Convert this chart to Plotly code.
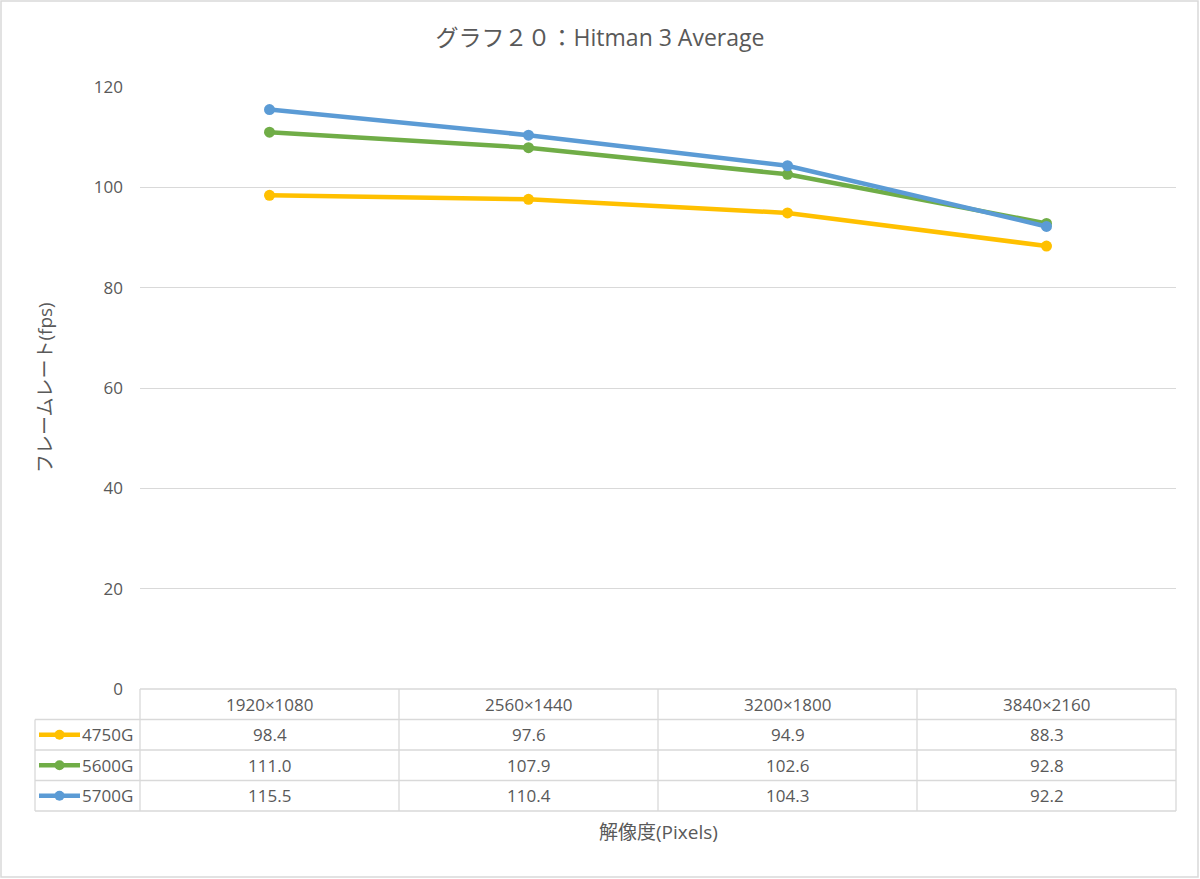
import plotly.graph_objects as go

# chart data
resolutions = ["1920×1080", "2560×1440", "3200×1800", "3840×2160"]
series_names = ["4750G", "5600G", "5700G"]
fps_4750g = [98.4, 97.6, 94.9, 88.3]
fps_5600g = [111.0, 107.9, 102.6, 92.8]
fps_5700g = [115.5, 110.4, 104.3, 92.2]
series_colors = ["#FFC000", "#70AD47", "#5B9BD5"]
y_ticks = [0, 20, 40, 60, 80, 100, 120]

W, H = 1200, 879
L, R, T, B = 140, 24, 87, 190
PW, PH = W - L - R, H - T - B
FONT = "Open Sans, Noto Sans CJK JP, sans-serif"
GRAY = "#595959"
GRID = "#D9D9D9"


def px_x(X):
    return (X - L) / PW


def px_y(Y):
    return (H - B - Y) / PH


def text_note(x, y, text, size=17, **kw):
    return dict(xref="paper", yref="paper", x=x, y=y, text=text, showarrow=False,
                xanchor=kw.pop("xanchor", "center"), yanchor="middle",
                font=dict(size=size, color=GRAY, family=FONT), **kw)


fig = go.Figure()
all_series = [fps_4750g, fps_5600g, fps_5700g]
for name, vals, color in zip(series_names, all_series, series_colors):
    fig.add_scatter(
        x=resolutions,
        y=vals,
        name=name,
        mode="lines+markers",
        line=dict(color=color, width=4.5),
        marker=dict(color=color, size=11),
        showlegend=False,
    )

shapes = []
annotations = []
ncat = len(resolutions)
row_h = 30.5
top = H - B  # table top in px

# column boundaries follow the category axis
col_edges = [L + PW * i / ncat for i in range(ncat + 1)]
legend_left = 35
bottom = top + (len(series_names) + 1) * row_h

# horizontal lines
for r in range(len(series_names) + 2):
    y = px_y(top + r * row_h)
    x0 = px_x(L) if r == 0 else px_x(legend_left)
    shapes.append(dict(type="line", xref="paper", yref="paper", x0=x0, x1=px_x(L + PW),
                       y0=y, y1=y, line=dict(color=GRID, width=1.3)))
# vertical lines
for X in col_edges:
    shapes.append(dict(type="line", xref="paper", yref="paper", x0=px_x(X), x1=px_x(X),
                       y0=px_y(top), y1=px_y(bottom), line=dict(color=GRID, width=1.3)))
shapes.append(dict(type="line", xref="paper", yref="paper", x0=px_x(legend_left), x1=px_x(legend_left),
                   y0=px_y(top + row_h), y1=px_y(bottom), line=dict(color=GRID, width=1.3)))

# header row
for i, res in enumerate(resolutions):
    annotations.append(text_note((i + 0.5) / ncat, px_y(top + row_h / 2), res))
# data rows
for r, (name, vals, color) in enumerate(zip(series_names, all_series, series_colors)):
    yc = px_y(top + (r + 1.5) * row_h)
    for i, v in enumerate(vals):
        annotations.append(text_note((i + 0.5) / ncat, yc, f"{v:.1f}"))
    # legend key
    shapes.append(dict(type="line", xref="paper", yref="paper", x0=px_x(39), x1=px_x(80), y0=yc, y1=yc,
                       line=dict(color=color, width=4.5)))
    shapes.append(dict(type="circle", xref="paper", yref="paper", x0=px_x(54.5), x1=px_x(64.5),
                       y0=yc - 5 / PH, y1=yc + 5 / PH, fillcolor=color, line=dict(width=0)))
    annotations.append(text_note(px_x(135), yc, name, xanchor="right"))

# outer border
shapes.append(dict(type="rect", xref="paper", yref="paper", x0=px_x(1), x1=px_x(W - 2),
                   y0=px_y(H - 2), y1=px_y(1), line=dict(color="#D9D9D9", width=1.5)))

# axis titles
annotations.append(text_note(px_x(45), px_y(388), "フレームレート(fps)", size=19, textangle=-90))
annotations.append(text_note(px_x(658), px_y(832), "解像度(Pixels)", size=19))

fig.update_layout(
    width=W,
    height=H,
    margin=dict(l=L, r=R, t=T, b=B),
    paper_bgcolor="white",
    plot_bgcolor="white",
    title=dict(text="グラフ２０：Hitman 3 Average", x=0.5, xanchor="center", y=1 - 38 / H,
               yanchor="middle", font=dict(size=23, color=GRAY, family=FONT)),
    font=dict(family=FONT, color=GRAY),
    shapes=shapes,
    annotations=annotations,
)
fig.update_xaxes(showticklabels=False, showgrid=False, zeroline=False, showline=False,
                 range=[-0.5, ncat - 0.5])
fig.update_yaxes(range=[0, 120], tickvals=y_ticks, showgrid=True, gridcolor=GRID, gridwidth=1.3,
                 zeroline=False, showline=False, ticklabelstandoff=16,
                 tickfont=dict(size=17, color=GRAY, family=FONT))

fig.write_html("out.html", config={"displayModeBar": False},
               post_script="document.body.style.margin='0';")
